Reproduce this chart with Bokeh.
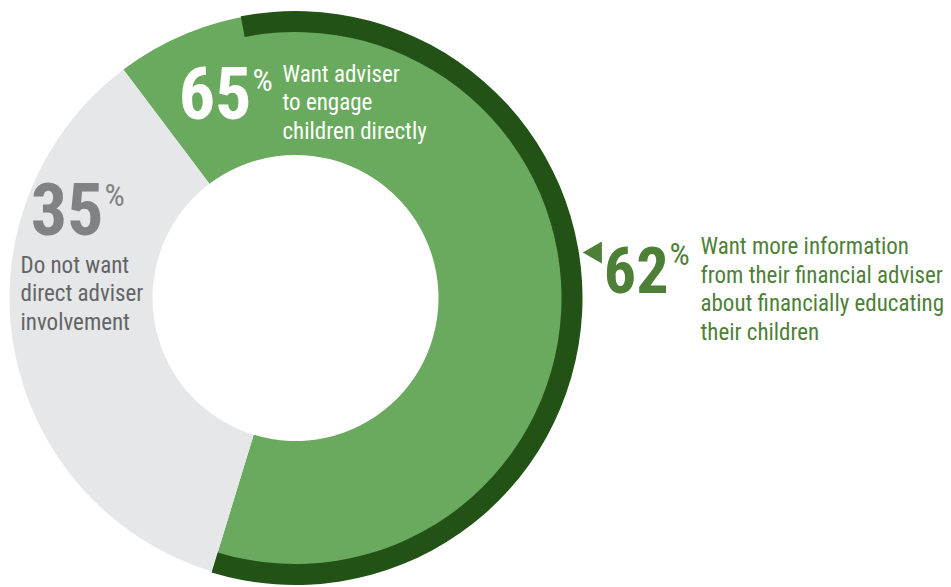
from math import pi
from bokeh.plotting import figure
from bokeh.models import Range1d
from bokeh.core.properties import value
from bokeh.embed import file_html
from bokeh.resources import INLINE

# ---- data ----
categories = ["Want adviser to engage children directly",
              "Do not want direct adviser involvement"]
shares = [65, 35]
info_share = 62
engage_label = ["Want adviser", "to engage", "children directly"]
no_label = ["Do not want", "direct adviser", "involvement"]
info_label = ["Want more information", "from their financial adviser",
              "about financially educating", "their children"]

# ---- styles / layout ----
W, H = 951, 587
LIGHT_GREEN = "#6aaa5e"
DARK_GREEN = "#225216"
GRAY = "#e6e7e8"
NUM_GRAY = "#808285"
TXT_GRAY = "#636466"
TXT_GREEN = "#4e7f37"
NUM_FONT = "Roboto Condensed"
TXT_FONT = "Roboto Condensed"

def Y(py):
    return H - py

cx, cy = 295, Y(297.5)
r_in, r_out = 143, 286
ring_in, ring_out = 266, 287
start_compass = -37.0          # degrees clockwise from 12 o'clock
ring_start_compass = -11.0

def to_math(compass_deg):
    return (90.0 - compass_deg) * pi / 180.0

p = figure(width=W, height=H, x_range=Range1d(0, W), y_range=Range1d(0, H),
           output_backend="svg", toolbar_location=None, min_border=0,
           background_fill_color="white", border_fill_color="white")
p.axis.visible = False
p.grid.visible = False
p.outline_line_color = None

# donut wedges
colors = [LIGHT_GREEN, GRAY]
a = start_compass
for s, c in zip(shares, colors):
    b = a + s / 100.0 * 360.0
    p.annular_wedge(x=cx, y=cy, inner_radius=r_in, outer_radius=r_out,
                    start_angle=to_math(a), end_angle=to_math(b),
                    direction="clock", fill_color=c, line_color=None)
    a = b
green_end = start_compass + shares[0] / 100.0 * 360.0

# dark outer ring (info share annotation)
p.annular_wedge(x=cx, y=cy, inner_radius=ring_in, outer_radius=ring_out,
                start_angle=to_math(ring_start_compass), end_angle=to_math(green_end),
                direction="clock", fill_color=DARK_GREEN, line_color=None)

def big(num, x_right, mid_py, pct_mid_py, color, size=70):
    p.text(x=[x_right], y=[Y(mid_py)], text=[f"{num}"], text_align="right",
           text_baseline="middle", text_color=color,
           text_font=value(NUM_FONT), text_font_style="bold",
           text_font_size=f"{size}px")
    p.text(x=[x_right + 1], y=[Y(pct_mid_py)], text=["%"],
           text_align="left", text_baseline="middle", text_color=color,
           text_font=value(NUM_FONT), text_font_size="32px")

def lines(ls, x, first_base_py, step, color, size=23):
    for i, t in enumerate(ls):
        p.text(x=[x], y=[Y(first_base_py + i * step - 0.35 * size)], text=[t],
               text_align="left", text_baseline="middle", text_color=color,
               text_font=value(TXT_FONT), text_font_size=f"{size}px")

# 65% label
big(shares[0], 251, 92.5, 79, "white", 72)
lines(engage_label, 282, 82, 28.5, "white")

# 35% label
big(shares[1], 103, 208.5, 194, NUM_GRAY, 72)
lines(no_label, 20, 273, 28.5, TXT_GRAY)

# 62% label with pointer
p.scatter(x=[595], y=[Y(252)], marker="triangle", size=22, angle=pi / 2,
          fill_color=TXT_GREEN, line_color=None)
big(info_share, 668, 269, 253, TXT_GREEN, 64)
lines(info_label, 700, 254, 28.7, TXT_GREEN)

open("out.html", "w").write(file_html(p, INLINE))
